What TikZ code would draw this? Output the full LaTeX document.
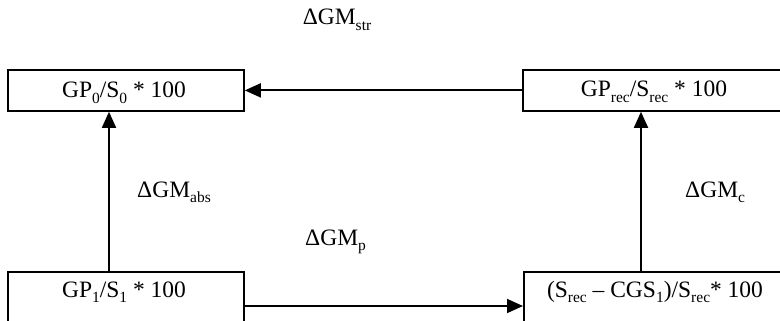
\documentclass[tikz,border=0pt]{standalone}
\usepackage{fontspec}
\setmainfont{Liberation Serif}
\usetikzlibrary{arrows.meta}
\newcommand{\sbs}[1]{\raisebox{-0.22em}{\fontsize{15.5}{15.5}\selectfont #1}}
\begin{document}
\begin{tikzpicture}[x=1pt,y=-1pt,
  box/.style={draw, line width=1.8pt, rectangle, inner sep=0pt},
  txt/.style={font=\fontsize{23.5}{27}\selectfont, inner sep=0pt, anchor=base},
  arr/.style={line width=1.8pt, -{Triangle[length=16pt,width=14pt]}}]
\useasboundingbox (0,0) rectangle (780,321);
\clip (0,0) rectangle (780,321);
% boxes
\node[box, minimum width=236pt, minimum height=41pt, anchor=north west] (b0) at (7,69) {};
\node[box, minimum width=260pt, minimum height=41pt, anchor=north west] (brec) at (522,69) {};
\node[box, minimum width=236pt, minimum height=70pt, anchor=north west] (b1) at (7,271) {};
\node[box, minimum width=260pt, minimum height=70pt, anchor=north west] (bc) at (523,271) {};
% box texts
\node[txt] (t0) at (124,98) {GP\sbs{0}/S\sbs{0} * 100};
\node[txt] (trec) at (654,97) {GP\sbs{rec}/S\sbs{rec} * 100};
\node[txt] (t1) at (124,297) {GP\sbs{1}/S\sbs{1} * 100};
\node[txt] (tc) at (655,297) {(S\sbs{rec} -- CGS\sbs{1})/S\sbs{rec}* 100};
% connectors
\coordinate (xl) at (109,0);
\coordinate (xr) at (641,0);
\coordinate (yb) at (0,306);
\draw[arr] (brec.west) -- (b0.east);
\draw[arr] (b1.north -| xl) -- (b0.south -| xl);
\draw[arr] (bc.north -| xr) -- (brec.south -| xr);
\draw[arr] (b1.east |- yb) -- (bc.west |- yb);
% labels
\node[txt] (lstr) at (337,25) {ΔGM\sbs{str}};
\node[txt, anchor=base west] (labs) at (137,197) {ΔGM\sbs{abs}};
\node[txt, anchor=base west] (lc) at (685,197) {ΔGM\sbs{c}};
\node[txt, anchor=base west] (lp) at (305,245) {ΔGM\sbs{p}};
\end{tikzpicture}
\end{document}
